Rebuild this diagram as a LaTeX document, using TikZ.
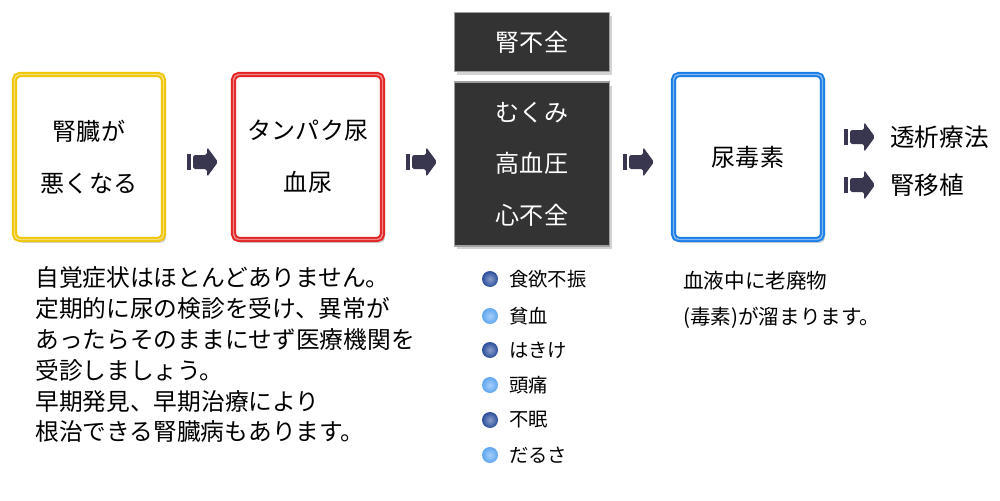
\documentclass[tikz,border=0pt]{standalone}
\usepackage{fontspec}
\setmainfont{Noto Sans CJK JP}
\usetikzlibrary{shadows}
\definecolor{ybox}{HTML}{EFC608}
\definecolor{rbox}{HTML}{E22424}
\definecolor{bbox}{HTML}{1C7DE6}
\definecolor{darkbox}{HTML}{333333}
\definecolor{arrowc}{HTML}{393650}
\definecolor{dkball}{HTML}{2B4E9C}
\definecolor{ltball}{HTML}{5FA6F0}
\tikzset{
  gbox/.style={draw=#1, line width=3pt, rounded corners=3pt, fill=white,
    minimum width=2.98cm, minimum height=3.3cm, align=center,
    font=\fontsize{13.7}{29.5}\selectfont,
    drop shadow={shadow xshift=1.5pt, shadow yshift=-2pt, opacity=0.35},
    postaction={draw=white, draw opacity=0.45, line width=0.8pt}},
  dbox/.style={fill=darkbox, draw=gray!75, line width=1pt, text=white,
    align=center, minimum width=3.1cm, font=\fontsize{13.7}{29.2}\selectfont,
    drop shadow={shadow xshift=1.5pt, shadow yshift=-2pt, opacity=0.35}},
  barrow/.pic={
    \fill[arrowc] (-15,-8) rectangle (-11,8);
    \fill[arrowc, rounded corners=1pt] (-9,-7) -- (5,-7) -- (5,-15) -- (16,0) -- (5,15) -- (5,7) -- (-9,7) -- cycle;},
  ball/.style={circle, inner sep=0pt, minimum size=0.32cm, shading=radial,
    inner color=#1!55!white, outer color=#1},
  blabel/.style={anchor=west, font=\fontsize{11}{13}\selectfont},
  rlabel/.style={anchor=west, font=\fontsize{14}{16}\selectfont}
}
\begin{document}
\begin{tikzpicture}[x=0.02cm, y=-0.02cm]
\useasboundingbox (0,0) rectangle (1000,500);
\node[gbox=ybox] (kid) at (89,157) {腎臓が\\悪くなる};
\node[gbox=rbox] (pro) at (308,157) {タンパク尿\\血尿};
\node[dbox, minimum height=1.18cm] (fail) at (532,42) {腎不全};
\node[dbox, minimum height=3.28cm] (sym) at (532,164) {むくみ\\高血圧\\心不全};
\node[gbox=bbox] (ure) at (748,157) {尿毒素};
\pic (a1) at (202,162) {barrow};
\pic (a2) at (421,162) {barrow};
\pic (a3) at (638,162) {barrow};
\pic (a4) at (859,137) {barrow};
\pic (a5) at (859,185) {barrow};
\node[rlabel] (dia) at (884,137) {透析療法};
\node[rlabel] (tra) at (884,185) {腎移植};
\node[anchor=north west, inner sep=0pt, align=left, font=\fontsize{13.5}{17.6}\selectfont] (desc) at (35,266)
  {自覚症状はほとんどありません。\\定期的に尿の検診を受け、異常が\\あったらそのままにせず医療機関を\\受診しましょう。\\早期発見、早期治療により\\根治できる腎臓病もあります。};
\foreach \yy/\cc/\tt [count=\i] in {279/dkball/食欲不振, 316/ltball/貧血, 350/dkball/はきけ, 385/ltball/頭痛, 420/dkball/不眠, 455/ltball/だるさ}{
  \node[ball=\cc] (b\i) at (490,\yy) {};
  \node[blabel] (t\i) at (503,\yy) {\tt};
}
\node[anchor=north west, inner sep=0pt, align=left, font=\fontsize{11.7}{20.4}\selectfont] (udesc) at (683,271)
  {血液中に老廃物\\(毒素)が溜まります。};
\end{tikzpicture}
\end{document}
